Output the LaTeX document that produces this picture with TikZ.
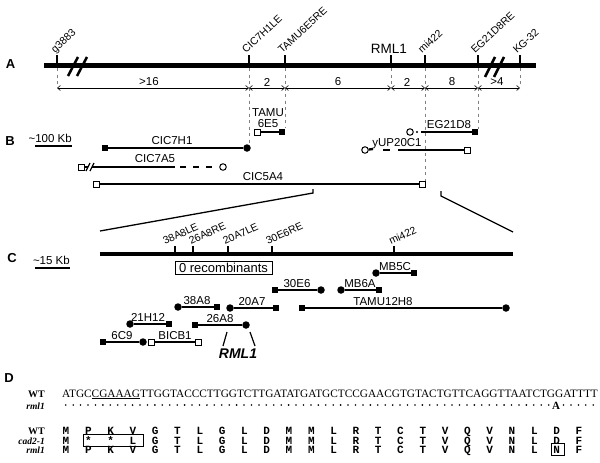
\documentclass[tikz,border=0pt]{standalone}
\usepackage{fontspec}
\setmainfont{Liberation Sans}
\newfontfamily\serif{Liberation Serif}
\newfontfamily\mono{Liberation Mono}
\usetikzlibrary{arrows.meta}
\begin{document}
\begin{tikzpicture}[x=1pt,y=-1pt,
  panel/.style={font=\fontsize{13}{13}\selectfont\bfseries,inner sep=0},
  lbl/.style={font=\fontsize{11.5}{12}\selectfont,inner sep=0},
  clbl/.style={lbl,anchor=base},
  rotA/.style={font=\fontsize{10.5}{11}\selectfont,inner sep=0,rotate=43,anchor=base west},
  rotC/.style={font=\fontsize{10.5}{11}\selectfont,inner sep=0,rotate=25,anchor=base west},
  mainA/.style={line width=5pt},
  mainC/.style={line width=4.5pt},
  tickmark/.style={line width=1.2pt},
  guide/.style={gray,line width=0.7pt,dash pattern=on 3pt off 3.5pt},
  dim/.style={line width=0.6pt,{Straight Barb[length=3pt,width=5pt]}-{Straight Barb[length=3pt,width=5pt]}},
  clone/.style={line width=2.3pt},
  fsq/.style={rectangle,fill=black,minimum size=6.5pt,inner sep=0},
  osq/.style={rectangle,draw=black,fill=white,line width=1pt,minimum size=6pt,inner sep=0},
  fci/.style={circle,fill=black,minimum size=7.5pt,inner sep=0},
  oci/.style={circle,draw=black,fill=white,line width=1pt,minimum size=6.5pt,inner sep=0},
  brk/.style={line width=2.5pt},
  seqf/.style={font=\serif\fontsize{11.3}{11}\selectfont,inner sep=0},
  aa/.style={font=\mono\bfseries\fontsize{11}{11}\selectfont,inner sep=0,anchor=base},
  rowlbl/.style={font=\serif\bfseries\fontsize{10}{10}\selectfont,inner sep=0,anchor=base east},
  rowlbli/.style={font=\serif\bfseries\itshape\fontsize{9.5}{10}\selectfont,inner sep=0,anchor=base east},
]
\useasboundingbox (0,0) rectangle (600,463);

% ---------------- Panel A ----------------
\node[panel] (pA) at (10.5,64) {A};
\coordinate (a0) at (44,65); \coordinate (a1) at (536,65);
\draw[mainA] (a0) -- (a1);
\draw[brk] (68,76) -- (78,57); \draw[brk] (77,76) -- (87,57);
\draw[brk] (485,77) -- (495,57); \draw[brk] (494,77) -- (504,57);
\foreach \x/\n/\e in {57/g/86,249/cle/145,285/tre/128,391/rml/86,425/mi/181,478/ere/129,520/kg/86}{
  \coordinate (t\n) at (\x,55);
  \coordinate (b\n) at (\x,\e);
  \coordinate (d\n) at (\x,88);
  \draw[tickmark] (t\n) -- (\x,63);
  \draw[guide] (\x,68) -- (b\n);
}
\node[rotA] (lg) at (55,54) {g3883};
\node[rotA] (lcle) at (246,54) {CIC7H1LE};
\node[rotA] (ltre) at (282,54) {TAMU6E5RE};
\node[font=\fontsize{13.5}{14}\selectfont,inner sep=0] (lrml) at (389,49) {RML1};
\node[rotA] (lmi) at (422,54) {mi422};
\node[rotA] (lere) at (475,54) {EG21D8RE};
\node[rotA] (lkg) at (517,54) {KG-32};
\draw[dim] (dg) -- (dcle);
\draw[dim] (dcle) -- (dtre);
\draw[dim] (dtre) -- (drml);
\draw[dim] (drml) -- (dmi);
\draw[dim] (dmi) -- (dere);
\draw[dim] (dere) -- (dkg);
\node[lbl] (m1) at (149,82) {>16};
\node[lbl] (m2) at (267,82) {2};
\node[lbl] (m3) at (338,82) {6};
\node[lbl] (m4) at (407,82) {2};
\node[lbl] (m5) at (452,82) {8};
\node[lbl] (m6) at (497,82) {>4};

% ---------------- Panel B ----------------
\node[panel] (pB) at (10,141) {B};
\node[lbl,anchor=base east] (sbB) at (72,142) {\textasciitilde100 Kb};
\coordinate (sbB1) at (35,146); \coordinate (sbB2) at (72,146);
\draw[line width=1.5pt] (sbB1) -- (sbB2);

\node[lbl] (tamu) at (268,113) {TAMU};
\node[lbl] (e65) at (268,124) {6E5};
\node[osq] (t1) at (257,132) {};
\node[fsq] (t2) at (282,132) {};
\draw[clone] (t1) -- (t2);

\node[fsq] (h1) at (105,148) {};
\node[fci] (h2) at (247,148) {};
\draw[clone] (h1) -- (h2);
\node[clbl] (lh) at (172,144) {CIC7H1};

\node[osq] (a5a) at (81,167) {};
\coordinate (a5b) at (88,167); \coordinate (a5c) at (175,167);
\coordinate (a5d) at (180,167); \coordinate (a5e) at (219,167);
\node[oci] (a5f) at (223,167) {};
\draw[clone] (a5a) -- (a5b);
\draw[line width=1.2pt] (86,171) -- (90,163); \draw[line width=1.2pt] (90,171) -- (94,163);
\draw[clone] (92,167) -- (a5c);
\draw[clone,dash pattern=on 6pt off 7pt] (a5d) -- (a5e);
\node[clbl] (la5) at (155,162) {CIC7A5};

\node[osq] (c5a) at (96,184) {};
\node[osq] (c5b) at (422,184) {};
\draw[clone] (c5a) -- (c5b);
\node[clbl] (lc5) at (263,180) {CIC5A4};

\node[oci] (e1) at (410,132) {};
\node[fsq] (e2) at (475,132) {};
\coordinate (e3) at (421,132);
\fill (417,132) circle (1.2);
\draw[clone] (e3) -- (e2);
\node[clbl] (le) at (449,128) {EG21D8};

\node[oci] (y1) at (365,150) {};
\node[osq] (y2) at (467,150) {};
\coordinate (y3) at (373,149); \coordinate (y4) at (383,150);
\coordinate (y5) at (390,150); \coordinate (y6) at (398,150);
\draw[clone] (y1) -- (y3);
\draw[clone] (y4) -- (y5);
\draw[clone] (y6) -- (y2);
\node[clbl] (ly) at (397,146) {yUP20C1};

\coordinate (x1) at (100,231); \coordinate (x2) at (313,193); \coordinate (x3) at (313,189);
\coordinate (x4) at (441,191); \coordinate (x5) at (441,196); \coordinate (x6) at (513,232);
\draw[line width=1.3pt] (x1) -- (x2) -- (x3);
\draw[line width=1.3pt] (x4) -- (x5) -- (x6);

% ---------------- Panel C ----------------
\node[panel] (pC) at (12,258) {C};
\node[lbl,anchor=base east] (sbC) at (70,264) {\textasciitilde15 Kb};
\coordinate (sbC1) at (35,268); \coordinate (sbC2) at (70,268);
\draw[line width=1.5pt] (sbC1) -- (sbC2);
\coordinate (c0) at (100,254); \coordinate (c1) at (513,254);
\draw[mainC] (c0) -- (c1);
\foreach \x/\n/\s/\t in {175/1/165/38A8LE,193/2/191/26A8RE,228/3/225/20A7LE,272/4/268/30E6RE,394/5/391/mi422}{
  \coordinate (ct\n) at (\x,246);
  \draw[tickmark] (ct\n) -- (\x,253);
  \node[rotC] (cl\n) at (\s,245) {\t};
}
\node[draw,line width=1pt,inner sep=0,minimum width=97pt,minimum height=13pt,font=\fontsize{13}{13}\selectfont] (rec) at (223.5,267.5) {0 recombinants};

\node[fci] (m5a) at (376,273) {}; \node[fsq] (m5b) at (414,273) {};
\draw[clone] (m5a) -- (m5b); \node[clbl] (lm5) at (395,270) {MB5C};
\node[fsq] (e6a) at (275,290) {}; \node[fci] (e6b) at (321,290) {};
\draw[clone] (e6a) -- (e6b); \node[clbl] (le6) at (297,287) {30E6};
\node[fci] (m6a) at (341,290) {}; \node[fsq] (m6b) at (379,290) {};
\draw[clone] (m6a) -- (m6b); \node[clbl] (lm6) at (360,287) {MB6A};
\node[fci] (a8a) at (178,307) {}; \node[fsq] (a8b) at (217,307) {};
\draw[clone] (a8a) -- (a8b); \node[clbl] (la8) at (197,304) {38A8};
\node[fci] (a7a) at (230,308) {}; \node[fsq] (a7b) at (276,308) {};
\draw[clone] (a7a) -- (a7b); \node[clbl] (la7) at (252,305) {20A7};
\node[fsq] (th1) at (302,308) {}; \node[fci] (th2) at (506,308) {};
\draw[clone] (th1) -- (th2); \node[clbl] (lth) at (383,305) {TAMU12H8};
\node[fci] (h12a) at (130,324) {}; \node[fsq] (h12b) at (169,324) {};
\draw[clone] (h12a) -- (h12b); \node[clbl] (lh12) at (148,321) {21H12};
\node[fsq] (a26a) at (195,325) {}; \node[fci] (a26b) at (246,325) {};
\draw[clone] (a26a) -- (a26b); \node[clbl] (la26) at (220,322) {26A8};
\node[fsq] (c9a) at (103,342) {}; \node[fci] (c9b) at (143,342) {};
\draw[clone] (c9a) -- (c9b); \node[clbl] (lc9) at (122,339) {6C9};
\node[osq] (bia) at (151,342) {}; \node[osq] (bib) at (198,342) {};
\draw[clone] (bia) -- (bib); \node[clbl] (lbi) at (175,339) {BICB1};
\node[font=\fontsize{14}{14}\selectfont\bfseries\itshape,inner sep=0] (rmlc) at (238,354) {RML1};
\coordinate (r1) at (227,332); \coordinate (r2) at (223,346);
\coordinate (r3) at (250,332); \coordinate (r4) at (255,346);
\draw[line width=1.2pt] (r1) -- (r2);
\draw[line width=1.2pt] (r3) -- (r4);

% ---------------- Panel D ----------------
\node[panel] (pD) at (9,378) {D};
\node[rowlbl] (wt1) at (45,397) {WT};
\node[rowlbli] (rm1) at (45,409) {rml1};
\node[seqf,anchor=base west] (seq) at (62,397) {ATGC\underline{CGAAAG}TTGGTACCCTTGGTCTTGATATGATGCTCCGAACGTGTACTGTTCAGGTTAATCTGGATTTT};
\foreach \i in {1,...,72}{\ifnum\i=67\relax\else\fill (58.3+\i*7.43,405) circle (0.9);\fi}
\node[font=\serif\bfseries\fontsize{11}{11}\selectfont,inner sep=0] (mutA) at (556,406) {A};

\node[rowlbl] (wt2) at (45,434) {WT};
\node[rowlbli] (cad) at (45,444) {cad2-1};
\node[rowlbli] (rm2) at (45,453) {rml1};
\foreach \a [count=\i] in {M,P,K,V,G,T,L,G,L,D,M,M,L,R,T,C,T,V,Q,V,N,L,D,F}
  \node[aa] (w\i) at (43.7+\i*22.3,434) {\a};
\foreach \a [count=\i] in {M,*,*,L,G,T,L,G,L,D,M,M,L,R,T,C,T,V,Q,V,N,L,D,F}
  \node[aa] (c\i) at (43.7+\i*22.3,444) {\a};
\foreach \a [count=\i] in {M,P,K,V,G,T,L,G,L,D,M,M,L,R,T,C,T,V,Q,V,N,L,N,F}
  \node[aa] (r\i) at (43.7+\i*22.3,453) {\a};
\draw[line width=1pt] (83,434) rectangle (143,446);
\draw[line width=1pt] (551,443) rectangle (564,455);
\end{tikzpicture}
\end{document}
